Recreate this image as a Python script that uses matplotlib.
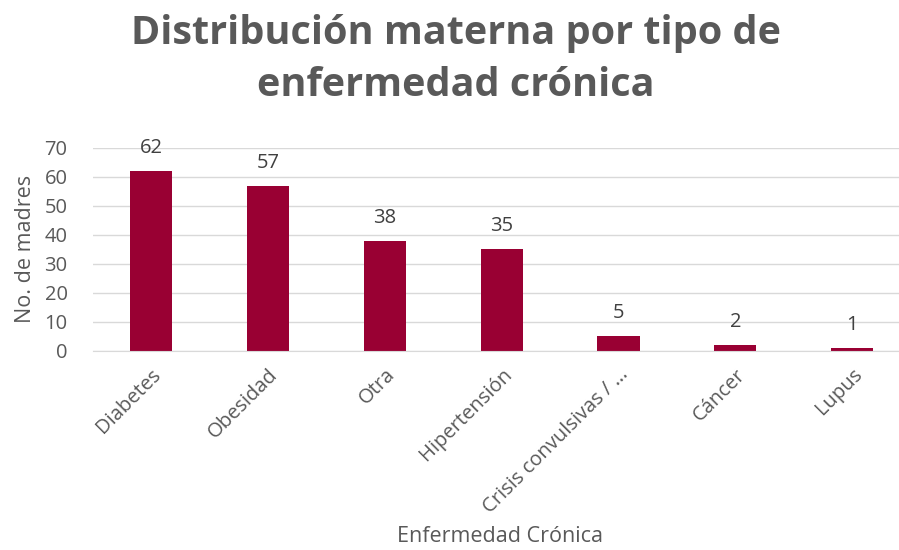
import matplotlib.pyplot as plt

categories = ["Diabetes", "Obesidad", "Otra", "Hipertensión",
              "Crisis convulsivas / …", "Cáncer", "Lupus"]
madres = [62, 57, 38, 35, 5, 2, 1]
y_ticks = [0, 10, 20, 30, 40, 50, 60, 70]

BAR_COLOR = "#990033"
TEXT_COLOR = "#595959"
GRID_COLOR = "#d9d9d9"

plt.rcParams["font.family"] = ["Open Sans", "DejaVu Sans"]

fig = plt.figure(figsize=(8.99, 5.5), dpi=100)
ax = fig.add_axes([0.103, 0.362, 0.897, 0.369])

x = range(len(categories))
bars = ax.bar(x, madres, width=0.36, color=BAR_COLOR, zorder=3)
for b, v in zip(bars, madres):
    ax.text(b.get_x() + b.get_width() / 2, v + 4.5, str(v), ha="center", va="bottom",
            fontsize=14.5, color="#404040")

ax.set_xlim(-0.5, 6.4)
ax.set_ylim(0, 70)
ax.set_yticks(y_ticks)
ax.set_xticks(list(x))
ax.set_xticklabels(categories, rotation=45, ha="right", rotation_mode="anchor")
ax.tick_params(axis="both", length=0, labelsize=14.5, labelcolor=TEXT_COLOR)
ax.tick_params(axis="x", pad=10)
ax.tick_params(axis="y", pad=18)
ax.grid(axis="y", color=GRID_COLOR, linewidth=1, zorder=0)
for s in ["top", "right", "left"]:
    ax.spines[s].set_visible(False)
ax.spines["bottom"].set_color(GRID_COLOR)
ax.spines["bottom"].set_zorder(4)

ax.set_ylabel("No. de madres", fontsize=15.5, color=TEXT_COLOR, labelpad=6)
fig.text(0.556, 0.005, "Enfermedad Crónica", ha="center", va="bottom",
         fontsize=15.5, color=TEXT_COLOR)
fig.suptitle("Distribución materna por tipo de\nenfermedad crónica", x=0.507, y=0.975,
             fontsize=28.5, fontweight="bold", color=TEXT_COLOR, linespacing=1.45)

fig.savefig("out.png", dpi=100)
